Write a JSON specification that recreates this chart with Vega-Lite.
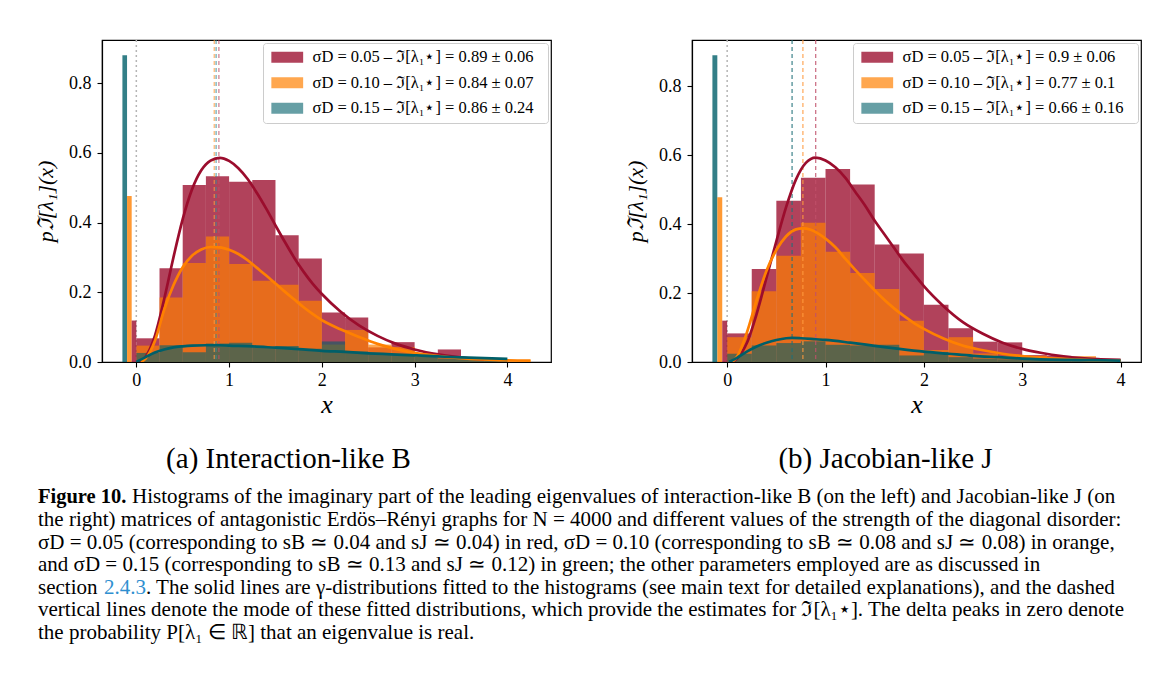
{
  "$schema": "https://vega.github.io/schema/vega-lite/v6.json",
  "background": "white",
  "padding": {"left": 33, "top": 38, "right": 0, "bottom": 0},
  "config": {
    "font": "Liberation Serif",
    "view": {"stroke": "black", "strokeWidth": 1.2},
    "axis": {"grid": false, "domainColor": "black", "domainWidth": 1.2, "tickColor": "black", "tickWidth": 1.1, "tickSize": 5, "labelColor": "black", "labelFontSize": 18, "labelFont": "Liberation Serif", "titleFont": "Liberation Serif", "titleFontStyle": "italic", "titleFontWeight": "normal", "titleColor": "black"},
    "legend": {"orient": "top-right", "offset": 3, "padding": 6, "fillColor": "white", "strokeColor": "#cccccc", "cornerRadius": 3, "rowPadding": 8.5, "labelFontSize": 16.5, "labelFont": "Liberation Serif", "labelColor": "black", "symbolType": "M-2.65,-0.9H2.65V0.9H-2.65Z", "symbolSize": 144, "symbolOffset": 10, "symbolStrokeWidth": 0, "labelOffset": 17, "labelLimit": 400, "title": null}
  },
  "datasets": {
    "histL": [
      {"s": "0.05", "x0": 0, "x1": 0.25, "p": 0.068}, {"s": "0.05", "x0": 0.25, "x1": 0.5, "p": 0.269}, {"s": "0.05", "x0": 0.5, "x1": 0.75, "p": 0.508}, {"s": "0.05", "x0": 0.75, "x1": 1, "p": 0.533}, {"s": "0.05", "x0": 1, "x1": 1.25, "p": 0.517}, {"s": "0.05", "x0": 1.25, "x1": 1.5, "p": 0.522}, {"s": "0.05", "x0": 1.5, "x1": 1.75, "p": 0.364}, {"s": "0.05", "x0": 1.75, "x1": 2, "p": 0.297}, {"s": "0.05", "x0": 2, "x1": 2.25, "p": 0.142}, {"s": "0.05", "x0": 2.25, "x1": 2.5, "p": 0.128}, {"s": "0.05", "x0": 2.5, "x1": 2.75, "p": 0.042}, {"s": "0.05", "x0": 2.75, "x1": 3, "p": 0.057}, {"s": "0.05", "x0": 3, "x1": 3.25, "p": 0.025}, {"s": "0.05", "x0": 3.25, "x1": 3.5, "p": 0.036}, {"s": "0.05", "x0": 3.5, "x1": 3.75, "p": 0.01}, {"s": "0.05", "x0": 3.75, "x1": 4, "p": 0.005},
      {"s": "0.10", "x0": 0, "x1": 0.25, "p": 0.047}, {"s": "0.10", "x0": 0.25, "x1": 0.5, "p": 0.185}, {"s": "0.10", "x0": 0.5, "x1": 0.75, "p": 0.284}, {"s": "0.10", "x0": 0.75, "x1": 1, "p": 0.36}, {"s": "0.10", "x0": 1, "x1": 1.25, "p": 0.281}, {"s": "0.10", "x0": 1.25, "x1": 1.5, "p": 0.233}, {"s": "0.10", "x0": 1.5, "x1": 1.75, "p": 0.222}, {"s": "0.10", "x0": 1.75, "x1": 2, "p": 0.176}, {"s": "0.10", "x0": 2, "x1": 2.25, "p": 0.05}, {"s": "0.10", "x0": 2.25, "x1": 2.5, "p": 0.092}, {"s": "0.10", "x0": 2.5, "x1": 2.75, "p": 0.05}, {"s": "0.10", "x0": 2.75, "x1": 3, "p": 0.043}, {"s": "0.10", "x0": 3, "x1": 3.25, "p": 0.02}, {"s": "0.10", "x0": 3.25, "x1": 3.5, "p": 0.012}, {"s": "0.10", "x0": 3.5, "x1": 3.75, "p": 0.01}, {"s": "0.10", "x0": 3.75, "x1": 4, "p": 0.008}, {"s": "0.10", "x0": 4, "x1": 4.25, "p": 0.005},
      {"s": "0.15", "x0": 0, "x1": 0.25, "p": 0.026}, {"s": "0.15", "x0": 0.25, "x1": 0.5, "p": 0.048}, {"s": "0.15", "x0": 0.5, "x1": 0.75, "p": 0.028}, {"s": "0.15", "x0": 0.75, "x1": 1, "p": 0.053}, {"s": "0.15", "x0": 1, "x1": 1.25, "p": 0.055}, {"s": "0.15", "x0": 1.25, "x1": 1.5, "p": 0.043}, {"s": "0.15", "x0": 1.5, "x1": 1.75, "p": 0.046}, {"s": "0.15", "x0": 1.75, "x1": 2, "p": 0.038}, {"s": "0.15", "x0": 2, "x1": 2.25, "p": 0.059}, {"s": "0.15", "x0": 2.25, "x1": 2.5, "p": 0.03}, {"s": "0.15", "x0": 2.5, "x1": 2.75, "p": 0.025}, {"s": "0.15", "x0": 2.75, "x1": 3, "p": 0.02}, {"s": "0.15", "x0": 3, "x1": 3.25, "p": 0.015}, {"s": "0.15", "x0": 3.25, "x1": 3.5, "p": 0.01}, {"s": "0.15", "x0": 3.5, "x1": 3.75, "p": 0.012}, {"s": "0.15", "x0": 3.75, "x1": 4, "p": 0.008}
    ],
    "histR": [
      {"s": "0.05", "x0": 0, "x1": 0.25, "p": 0.083}, {"s": "0.05", "x0": 0.25, "x1": 0.5, "p": 0.27}, {"s": "0.05", "x0": 0.5, "x1": 0.75, "p": 0.468}, {"s": "0.05", "x0": 0.75, "x1": 1, "p": 0.535}, {"s": "0.05", "x0": 1, "x1": 1.25, "p": 0.56}, {"s": "0.05", "x0": 1.25, "x1": 1.5, "p": 0.515}, {"s": "0.05", "x0": 1.5, "x1": 1.75, "p": 0.341}, {"s": "0.05", "x0": 1.75, "x1": 2, "p": 0.315}, {"s": "0.05", "x0": 2, "x1": 2.25, "p": 0.166}, {"s": "0.05", "x0": 2.25, "x1": 2.5, "p": 0.098}, {"s": "0.05", "x0": 2.5, "x1": 2.75, "p": 0.059}, {"s": "0.05", "x0": 2.75, "x1": 3, "p": 0.057}, {"s": "0.05", "x0": 3, "x1": 3.25, "p": 0.02}, {"s": "0.05", "x0": 3.25, "x1": 3.5, "p": 0.018}, {"s": "0.05", "x0": 3.5, "x1": 3.75, "p": 0.01}, {"s": "0.05", "x0": 3.75, "x1": 4, "p": 0.008},
      {"s": "0.10", "x0": 0, "x1": 0.25, "p": 0.072}, {"s": "0.10", "x0": 0.25, "x1": 0.5, "p": 0.205}, {"s": "0.10", "x0": 0.5, "x1": 0.75, "p": 0.308}, {"s": "0.10", "x0": 0.75, "x1": 1, "p": 0.404}, {"s": "0.10", "x0": 1, "x1": 1.25, "p": 0.32}, {"s": "0.10", "x0": 1.25, "x1": 1.5, "p": 0.258}, {"s": "0.10", "x0": 1.5, "x1": 1.75, "p": 0.212}, {"s": "0.10", "x0": 1.75, "x1": 2, "p": 0.12}, {"s": "0.10", "x0": 2, "x1": 2.25, "p": 0.035}, {"s": "0.10", "x0": 2.25, "x1": 2.5, "p": 0.072}, {"s": "0.10", "x0": 2.5, "x1": 2.75, "p": 0.025}, {"s": "0.10", "x0": 2.75, "x1": 3, "p": 0.018}, {"s": "0.10", "x0": 3, "x1": 3.25, "p": 0.018}, {"s": "0.10", "x0": 3.25, "x1": 3.5, "p": 0.012}, {"s": "0.10", "x0": 3.5, "x1": 3.75, "p": 0.017}, {"s": "0.10", "x0": 3.75, "x1": 4, "p": 0.005},
      {"s": "0.15", "x0": 0, "x1": 0.25, "p": 0.024}, {"s": "0.15", "x0": 0.25, "x1": 0.5, "p": 0.048}, {"s": "0.15", "x0": 0.5, "x1": 0.75, "p": 0.055}, {"s": "0.15", "x0": 0.75, "x1": 1, "p": 0.06}, {"s": "0.15", "x0": 1, "x1": 1.25, "p": 0.05}, {"s": "0.15", "x0": 1.25, "x1": 1.5, "p": 0.048}, {"s": "0.15", "x0": 1.5, "x1": 1.75, "p": 0.05}, {"s": "0.15", "x0": 1.75, "x1": 2, "p": 0.019}, {"s": "0.15", "x0": 2, "x1": 2.25, "p": 0.029}, {"s": "0.15", "x0": 2.25, "x1": 2.5, "p": 0.014}, {"s": "0.15", "x0": 2.5, "x1": 2.75, "p": 0.01}, {"s": "0.15", "x0": 2.75, "x1": 3, "p": 0.008}, {"s": "0.15", "x0": 3, "x1": 3.25, "p": 0.007}, {"s": "0.15", "x0": 3.25, "x1": 3.5, "p": 0.006}, {"s": "0.15", "x0": 3.5, "x1": 3.75, "p": 0.004}, {"s": "0.15", "x0": 3.75, "x1": 4, "p": 0.004}
    ],
    "deltaL": [
      {"s": "0.15", "x0": -0.15, "x1": -0.1, "p": 0.88}, {"s": "0.10", "x0": -0.1, "x1": -0.05, "p": 0.476}, {"s": "0.05", "x0": -0.05, "x1": 0, "p": 0.119}
    ],
    "deltaR": [
      {"s": "0.15", "x0": -0.15, "x1": -0.1, "p": 0.89}, {"s": "0.10", "x0": -0.1, "x1": -0.05, "p": 0.478}, {"s": "0.05", "x0": -0.05, "x1": 0, "p": 0.12}
    ],
    "curveL": [
      {"s": "0.05", "x": 0.03, "p": 0}, {"s": "0.05", "x": 0.1, "p": 0.015}, {"s": "0.05", "x": 0.2, "p": 0.075}, {"s": "0.05", "x": 0.3, "p": 0.18}, {"s": "0.05", "x": 0.4, "p": 0.3}, {"s": "0.05", "x": 0.5, "p": 0.41}, {"s": "0.05", "x": 0.6, "p": 0.495}, {"s": "0.05", "x": 0.7, "p": 0.55}, {"s": "0.05", "x": 0.8, "p": 0.578}, {"s": "0.05", "x": 0.9, "p": 0.586}, {"s": "0.05", "x": 1.0, "p": 0.577}, {"s": "0.05", "x": 1.1, "p": 0.556}, {"s": "0.05", "x": 1.2, "p": 0.525}, {"s": "0.05", "x": 1.3, "p": 0.485}, {"s": "0.05", "x": 1.4, "p": 0.44}, {"s": "0.05", "x": 1.5, "p": 0.392}, {"s": "0.05", "x": 1.6, "p": 0.345}, {"s": "0.05", "x": 1.7, "p": 0.3}, {"s": "0.05", "x": 1.8, "p": 0.26}, {"s": "0.05", "x": 1.9, "p": 0.225}, {"s": "0.05", "x": 2.0, "p": 0.195}, {"s": "0.05", "x": 2.2, "p": 0.145}, {"s": "0.05", "x": 2.4, "p": 0.105}, {"s": "0.05", "x": 2.6, "p": 0.075}, {"s": "0.05", "x": 2.8, "p": 0.052}, {"s": "0.05", "x": 3.0, "p": 0.036}, {"s": "0.05", "x": 3.2, "p": 0.024}, {"s": "0.05", "x": 3.4, "p": 0.016}, {"s": "0.05", "x": 3.6, "p": 0.01}, {"s": "0.05", "x": 3.75, "p": 0.007},
      {"s": "0.10", "x": 0.05, "p": 0}, {"s": "0.10", "x": 0.1, "p": 0.01}, {"s": "0.10", "x": 0.2, "p": 0.06}, {"s": "0.10", "x": 0.3, "p": 0.15}, {"s": "0.10", "x": 0.4, "p": 0.22}, {"s": "0.10", "x": 0.5, "p": 0.272}, {"s": "0.10", "x": 0.6, "p": 0.305}, {"s": "0.10", "x": 0.7, "p": 0.323}, {"s": "0.10", "x": 0.8, "p": 0.33}, {"s": "0.10", "x": 0.9, "p": 0.329}, {"s": "0.10", "x": 1.0, "p": 0.322}, {"s": "0.10", "x": 1.1, "p": 0.31}, {"s": "0.10", "x": 1.2, "p": 0.292}, {"s": "0.10", "x": 1.3, "p": 0.27}, {"s": "0.10", "x": 1.4, "p": 0.248}, {"s": "0.10", "x": 1.5, "p": 0.225}, {"s": "0.10", "x": 1.6, "p": 0.202}, {"s": "0.10", "x": 1.7, "p": 0.18}, {"s": "0.10", "x": 1.8, "p": 0.158}, {"s": "0.10", "x": 1.9, "p": 0.138}, {"s": "0.10", "x": 2.0, "p": 0.12}, {"s": "0.10", "x": 2.2, "p": 0.094}, {"s": "0.10", "x": 2.4, "p": 0.072}, {"s": "0.10", "x": 2.6, "p": 0.052}, {"s": "0.10", "x": 2.8, "p": 0.037}, {"s": "0.10", "x": 3.0, "p": 0.026}, {"s": "0.10", "x": 3.2, "p": 0.019}, {"s": "0.10", "x": 3.4, "p": 0.013}, {"s": "0.10", "x": 3.6, "p": 0.009}, {"s": "0.10", "x": 3.8, "p": 0.007}, {"s": "0.10", "x": 4.0, "p": 0.005}, {"s": "0.10", "x": 4.25, "p": 0.004},
      {"s": "0.15", "x": 0, "p": 0}, {"s": "0.15", "x": 0.1, "p": 0.014}, {"s": "0.15", "x": 0.2, "p": 0.027}, {"s": "0.15", "x": 0.3, "p": 0.036}, {"s": "0.15", "x": 0.4, "p": 0.042}, {"s": "0.15", "x": 0.5, "p": 0.045}, {"s": "0.15", "x": 0.6, "p": 0.047}, {"s": "0.15", "x": 0.75, "p": 0.048}, {"s": "0.15", "x": 0.9, "p": 0.048}, {"s": "0.15", "x": 1.0, "p": 0.047}, {"s": "0.15", "x": 1.25, "p": 0.045}, {"s": "0.15", "x": 1.5, "p": 0.041}, {"s": "0.15", "x": 1.75, "p": 0.037}, {"s": "0.15", "x": 2.0, "p": 0.032}, {"s": "0.15", "x": 2.25, "p": 0.029}, {"s": "0.15", "x": 2.5, "p": 0.025}, {"s": "0.15", "x": 2.75, "p": 0.022}, {"s": "0.15", "x": 3.0, "p": 0.019}, {"s": "0.15", "x": 3.25, "p": 0.016}, {"s": "0.15", "x": 3.5, "p": 0.013}, {"s": "0.15", "x": 3.75, "p": 0.011}, {"s": "0.15", "x": 4.0, "p": 0.009}
    ],
    "curveR": [
      {"s": "0.05", "x": 0.05, "p": 0}, {"s": "0.05", "x": 0.1, "p": 0.01}, {"s": "0.05", "x": 0.2, "p": 0.055}, {"s": "0.05", "x": 0.3, "p": 0.14}, {"s": "0.05", "x": 0.4, "p": 0.245}, {"s": "0.05", "x": 0.5, "p": 0.35}, {"s": "0.05", "x": 0.6, "p": 0.45}, {"s": "0.05", "x": 0.7, "p": 0.53}, {"s": "0.05", "x": 0.8, "p": 0.578}, {"s": "0.05", "x": 0.9, "p": 0.593}, {"s": "0.05", "x": 1.0, "p": 0.585}, {"s": "0.05", "x": 1.1, "p": 0.565}, {"s": "0.05", "x": 1.2, "p": 0.535}, {"s": "0.05", "x": 1.3, "p": 0.495}, {"s": "0.05", "x": 1.4, "p": 0.455}, {"s": "0.05", "x": 1.5, "p": 0.41}, {"s": "0.05", "x": 1.6, "p": 0.37}, {"s": "0.05", "x": 1.7, "p": 0.33}, {"s": "0.05", "x": 1.8, "p": 0.29}, {"s": "0.05", "x": 1.9, "p": 0.255}, {"s": "0.05", "x": 2.0, "p": 0.22}, {"s": "0.05", "x": 2.2, "p": 0.162}, {"s": "0.05", "x": 2.4, "p": 0.115}, {"s": "0.05", "x": 2.6, "p": 0.082}, {"s": "0.05", "x": 2.8, "p": 0.056}, {"s": "0.05", "x": 3.0, "p": 0.038}, {"s": "0.05", "x": 3.2, "p": 0.026}, {"s": "0.05", "x": 3.4, "p": 0.017}, {"s": "0.05", "x": 3.6, "p": 0.011}, {"s": "0.05", "x": 3.8, "p": 0.008}, {"s": "0.05", "x": 4.0, "p": 0.006},
      {"s": "0.10", "x": 0.05, "p": 0}, {"s": "0.10", "x": 0.1, "p": 0.015}, {"s": "0.10", "x": 0.2, "p": 0.085}, {"s": "0.10", "x": 0.3, "p": 0.18}, {"s": "0.10", "x": 0.4, "p": 0.265}, {"s": "0.10", "x": 0.5, "p": 0.325}, {"s": "0.10", "x": 0.6, "p": 0.365}, {"s": "0.10", "x": 0.7, "p": 0.385}, {"s": "0.10", "x": 0.77, "p": 0.388}, {"s": "0.10", "x": 0.85, "p": 0.384}, {"s": "0.10", "x": 1.0, "p": 0.358}, {"s": "0.10", "x": 1.1, "p": 0.333}, {"s": "0.10", "x": 1.2, "p": 0.3}, {"s": "0.10", "x": 1.3, "p": 0.268}, {"s": "0.10", "x": 1.4, "p": 0.238}, {"s": "0.10", "x": 1.5, "p": 0.208}, {"s": "0.10", "x": 1.6, "p": 0.18}, {"s": "0.10", "x": 1.7, "p": 0.155}, {"s": "0.10", "x": 1.8, "p": 0.133}, {"s": "0.10", "x": 1.9, "p": 0.113}, {"s": "0.10", "x": 2.0, "p": 0.096}, {"s": "0.10", "x": 2.2, "p": 0.068}, {"s": "0.10", "x": 2.4, "p": 0.047}, {"s": "0.10", "x": 2.6, "p": 0.034}, {"s": "0.10", "x": 2.8, "p": 0.024}, {"s": "0.10", "x": 3.0, "p": 0.017}, {"s": "0.10", "x": 3.25, "p": 0.011}, {"s": "0.10", "x": 3.5, "p": 0.008}, {"s": "0.10", "x": 3.75, "p": 0.005}, {"s": "0.10", "x": 4.0, "p": 0.004},
      {"s": "0.15", "x": 0.02, "p": 0}, {"s": "0.15", "x": 0.1, "p": 0.012}, {"s": "0.15", "x": 0.2, "p": 0.03}, {"s": "0.15", "x": 0.3, "p": 0.045}, {"s": "0.15", "x": 0.4, "p": 0.056}, {"s": "0.15", "x": 0.5, "p": 0.064}, {"s": "0.15", "x": 0.6, "p": 0.069}, {"s": "0.15", "x": 0.66, "p": 0.07}, {"s": "0.15", "x": 0.75, "p": 0.069}, {"s": "0.15", "x": 0.9, "p": 0.066}, {"s": "0.15", "x": 1.0, "p": 0.064}, {"s": "0.15", "x": 1.25, "p": 0.056}, {"s": "0.15", "x": 1.5, "p": 0.047}, {"s": "0.15", "x": 1.75, "p": 0.038}, {"s": "0.15", "x": 2.0, "p": 0.03}, {"s": "0.15", "x": 2.25, "p": 0.024}, {"s": "0.15", "x": 2.5, "p": 0.018}, {"s": "0.15", "x": 2.75, "p": 0.014}, {"s": "0.15", "x": 3.0, "p": 0.01}, {"s": "0.15", "x": 3.5, "p": 0.006}, {"s": "0.15", "x": 4.0, "p": 0.004}
    ],
    "modeL": [{"s": "0.05", "m": 0.89}, {"s": "0.10", "m": 0.84}, {"s": "0.15", "m": 0.86}],
    "modeR": [{"s": "0.05", "m": 0.9}, {"s": "0.10", "m": 0.77}, {"s": "0.15", "m": 0.66}],
    "caption": [
      {"line": 1, "part": "bold", "t": "Figure 10."},
      {"line": 1, "part": "rest", "t": "Histograms of the imaginary part of the leading eigenvalues of interaction-like B (on the left) and Jacobian-like J (on"},
      {"line": 2, "part": "body", "t": "the right) matrices of antagonistic Erdös–Rényi graphs for N = 4000 and different values of the strength of the diagonal disorder:"},
      {"line": 3, "part": "body", "t": "σD = 0.05 (corresponding to sB ≃ 0.04 and sJ ≃ 0.04) in red, σD = 0.10 (corresponding to sB ≃ 0.08 and sJ ≃ 0.08) in orange,"},
      {"line": 4, "part": "body", "t": "and σD = 0.15 (corresponding to sB ≃ 0.13 and sJ ≃ 0.12) in green; the other parameters employed are as discussed in"},
      {"line": 5, "part": "pre", "t": "section"},
      {"line": 5, "part": "link", "t": "2.4.3"},
      {"line": 5, "part": "post", "t": ". The solid lines are γ-distributions fitted to the histograms (see main text for detailed explanations), and the dashed"},
      {"line": 6, "part": "body", "t": "vertical lines denote the mode of these fitted distributions, which provide the estimates for ℑ[λ₁⋆]. The delta peaks in zero denote"},
      {"line": 7, "part": "body", "t": "the probability P[λ₁ ∈ ℝ] that an eigenvalue is real."}
    ]
  },
  "vconcat": [
    {
      "hconcat": [
        {
          "width": 449, "height": 322,
          "title": {"text": "(a) Interaction-like B", "orient": "bottom", "anchor": "middle", "fontSize": 29, "font": "Liberation Serif", "fontWeight": "normal", "color": "black", "dx": -38, "offset": 28},
          "layer": [
            {"data": {"values": [{"z": 0}]}, "mark": {"type": "rule", "color": "#b5b5b5", "strokeDash": [2, 3], "strokeWidth": 1.5}, "encoding": {"x": {"field": "z", "type": "quantitative"}}},
            {"data": {"name": "histL"}, "mark": {"type": "bar", "clip": true},
             "encoding": {
               "x": {"field": "x0", "type": "quantitative", "scale": {"domain": [-0.37, 4.47], "nice": false, "zero": false}, "axis": {"values": [0, 1, 2, 3, 4], "format": "d", "title": "x", "titleFontSize": 26, "titlePadding": 2, "labelPadding": 4}},
               "x2": {"field": "x1"},
               "y": {"field": "p", "type": "quantitative", "scale": {"domain": [0, 0.924], "nice": false}, "axis": {"values": [0, 0.2, 0.4, 0.6, 0.8], "format": ".1f", "title": "pℑ[λ₁](x)", "titleFontSize": 22, "titlePadding": 11, "labelPadding": 6}},
               "y2": {"datum": 0},
               "color": {"field": "s", "type": "nominal", "scale": {"domain": ["0.05", "0.10", "0.15"], "range": ["#9b0d2d", "#ff8000", "#005f69"]},
                 "legend": {"labelExpr": "datum.label == '0.05' ? 'σD = 0.05  –  ℑ[λ₁⋆] = 0.89 ± 0.06' : datum.label == '0.10' ? 'σD = 0.10  –  ℑ[λ₁⋆] = 0.84 ± 0.07' : 'σD = 0.15  –  ℑ[λ₁⋆] = 0.86 ± 0.24'",
                   "encode": {"symbols": {"update": {"opacity": {"signal": "datum.value == '0.05' ? 0.78 : 0.6"}}}}}},
               "opacity": {"field": "s", "type": "nominal", "scale": {"domain": ["0.05", "0.10", "0.15"], "range": [0.78, 0.6, 0.6]}, "legend": null}
             }},
            {"data": {"name": "deltaL"}, "mark": {"type": "bar", "opacity": 0.8},
             "encoding": {
               "x": {"field": "x0", "type": "quantitative"}, "x2": {"field": "x1"},
               "y": {"field": "p", "type": "quantitative"}, "y2": {"datum": 0},
               "color": {"field": "s", "type": "nominal"}
             }},
            {"data": {"name": "modeL"}, "mark": {"type": "rule", "strokeDash": [4, 3], "strokeWidth": 1.3, "opacity": 0.7},
             "encoding": {"x": {"field": "m", "type": "quantitative"}, "stroke": {"field": "s", "type": "nominal", "scale": {"domain": ["0.05", "0.10", "0.15"], "range": ["#c0506a", "#ff9a3e", "#3a8a94"]}, "legend": null}}},
            {"data": {"name": "curveL"}, "mark": {"type": "line", "strokeWidth": 2.7, "interpolate": "monotone", "clip": true},
             "encoding": {"x": {"field": "x", "type": "quantitative"}, "y": {"field": "p", "type": "quantitative"},
               "color": {"field": "s", "type": "nominal", "legend": null},
               "order": {"field": "x", "type": "quantitative"}}}
          ]
        },
        {
          "width": 449, "height": 322,
          "title": {"text": "(b) Jacobian-like J", "orient": "bottom", "anchor": "middle", "fontSize": 29, "font": "Liberation Serif", "fontWeight": "normal", "color": "black", "dx": -31, "offset": 28},
          "layer": [
            {"data": {"values": [{"z": 0}]}, "mark": {"type": "rule", "color": "#b5b5b5", "strokeDash": [2, 3], "strokeWidth": 1.5}, "encoding": {"x": {"field": "z", "type": "quantitative"}}},
            {"data": {"name": "histR"}, "mark": {"type": "bar", "clip": true},
             "encoding": {
               "x": {"field": "x0", "type": "quantitative", "scale": {"domain": [-0.3575, 4.2075], "nice": false, "zero": false}, "axis": {"values": [0, 1, 2, 3, 4], "format": "d", "title": "x", "titleFontSize": 26, "titlePadding": 2, "labelPadding": 4}},
               "x2": {"field": "x1"},
               "y": {"field": "p", "type": "quantitative", "scale": {"domain": [0, 0.9345], "nice": false}, "axis": {"values": [0, 0.2, 0.4, 0.6, 0.8], "format": ".1f", "title": "pℑ[λ₁](x)", "titleFontSize": 22, "titlePadding": 11, "labelPadding": 6}},
               "y2": {"datum": 0},
               "color": {"field": "s", "type": "nominal", "scale": {"domain": ["0.05", "0.10", "0.15"], "range": ["#9b0d2d", "#ff8000", "#005f69"]},
                 "legend": {"labelExpr": "datum.label == '0.05' ? 'σD = 0.05  –  ℑ[λ₁⋆] = 0.9 ± 0.06' : datum.label == '0.10' ? 'σD = 0.10  –  ℑ[λ₁⋆] = 0.77 ± 0.1' : 'σD = 0.15  –  ℑ[λ₁⋆] = 0.66 ± 0.16'",
                   "encode": {"symbols": {"update": {"opacity": {"signal": "datum.value == '0.05' ? 0.78 : 0.6"}}}}}},
               "opacity": {"field": "s", "type": "nominal", "scale": {"domain": ["0.05", "0.10", "0.15"], "range": [0.78, 0.6, 0.6]}, "legend": null}
             }},
            {"data": {"name": "deltaR"}, "mark": {"type": "bar", "opacity": 0.8},
             "encoding": {
               "x": {"field": "x0", "type": "quantitative"}, "x2": {"field": "x1"},
               "y": {"field": "p", "type": "quantitative"}, "y2": {"datum": 0},
               "color": {"field": "s", "type": "nominal"}
             }},
            {"data": {"name": "modeR"}, "mark": {"type": "rule", "strokeDash": [4, 3], "strokeWidth": 1.3, "opacity": 0.8},
             "encoding": {"x": {"field": "m", "type": "quantitative"}, "stroke": {"field": "s", "type": "nominal", "scale": {"domain": ["0.05", "0.10", "0.15"], "range": ["#c0506a", "#ff9a3e", "#1f6f78"]}, "legend": null}}},
            {"data": {"name": "curveR"}, "mark": {"type": "line", "strokeWidth": 2.7, "interpolate": "monotone", "clip": true},
             "encoding": {"x": {"field": "x", "type": "quantitative"}, "y": {"field": "p", "type": "quantitative"},
               "color": {"field": "s", "type": "nominal", "legend": null},
               "order": {"field": "x", "type": "quantitative"}}}
          ]
        }
      ],
      "spacing": 71,
      "resolve": {"scale": {"color": "independent", "opacity": "independent", "stroke": "independent", "x": "independent", "y": "independent"}, "legend": {"color": "independent"}}
    },
    {
      "width": 1000, "height": {"step": 22.6},
      "view": {"stroke": null},
      "data": {"name": "caption"},
      "encoding": {"y": {"field": "line", "type": "ordinal", "axis": null}},
      "layer": [
        {"transform": [{"filter": "datum.part == 'body'"}], "mark": {"type": "text", "align": "left", "baseline": "middle", "fontSize": 21, "font": "Liberation Serif", "color": "black"}, "encoding": {"x": {"value": -64}, "text": {"field": "t"}}},
        {"transform": [{"filter": "datum.part == 'bold'"}], "mark": {"type": "text", "align": "left", "baseline": "middle", "fontSize": 20.5, "font": "Liberation Serif", "fontWeight": "bold", "color": "black"}, "encoding": {"x": {"value": -64}, "text": {"field": "t"}}},
        {"transform": [{"filter": "datum.part == 'rest'"}], "mark": {"type": "text", "align": "left", "baseline": "middle", "fontSize": 21, "font": "Liberation Serif", "color": "black", "dx": 94}, "encoding": {"x": {"value": -64}, "text": {"field": "t"}}},
        {"transform": [{"filter": "datum.part == 'pre'"}], "mark": {"type": "text", "align": "left", "baseline": "middle", "fontSize": 21, "font": "Liberation Serif", "color": "black"}, "encoding": {"x": {"value": -64}, "text": {"field": "t"}}},
        {"transform": [{"filter": "datum.part == 'link'"}], "mark": {"type": "text", "align": "left", "baseline": "middle", "fontSize": 21, "font": "Liberation Serif", "color": "#2f8fd0", "dx": 66}, "encoding": {"x": {"value": -64}, "text": {"field": "t"}}},
        {"transform": [{"filter": "datum.part == 'post'"}], "mark": {"type": "text", "align": "left", "baseline": "middle", "fontSize": 21, "font": "Liberation Serif", "color": "black", "dx": 108}, "encoding": {"x": {"value": -64}, "text": {"field": "t"}}}
      ]
    }
  ],
  "spacing": 11
}
